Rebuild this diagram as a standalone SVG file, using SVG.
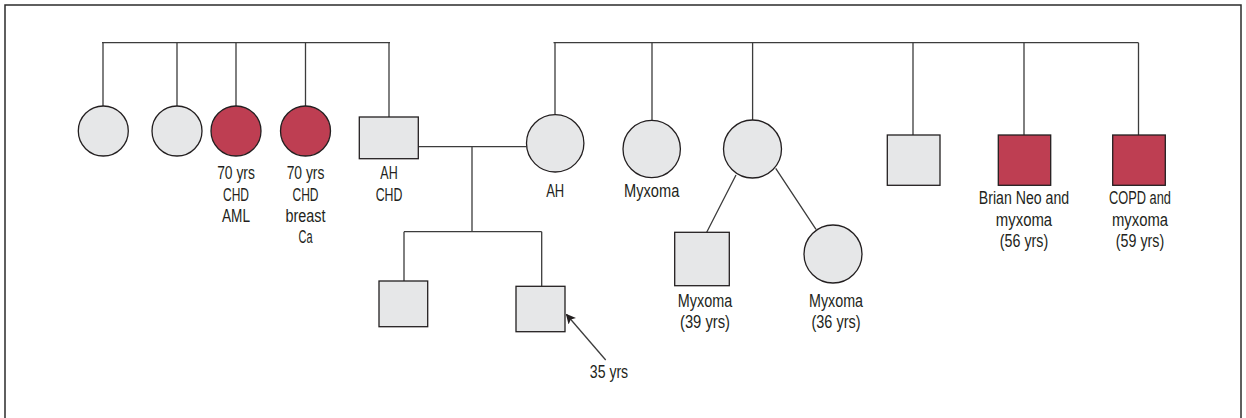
<svg xmlns="http://www.w3.org/2000/svg" width="1246" height="418" viewBox="0 0 1246 418">
  <style>
    .line { stroke: #3c3c3c; stroke-width: 1.3; fill: none; }
    .unaff { fill: #e6e7e8; stroke: #231f20; stroke-width: 1.3; }
    .aff { fill: #be3e52; stroke: #231f20; stroke-width: 1.3; }
    text { font-family: "Liberation Sans", Arial, sans-serif; font-size: 17.5px; fill: #231f20; text-anchor: middle; }
  </style>
  <defs>
    <marker id="arrow" viewBox="0 0 10 10" refX="9" refY="5" markerWidth="10" markerHeight="10" markerUnits="userSpaceOnUse" orient="auto">
      <path d="M0,0 L10,5 L0,10 L2.5,5 z" fill="#231f20"/>
    </marker>
  </defs>
  <rect x="0" y="0" width="1246" height="418" fill="#ffffff"/>
  <path d="M5,430 V5 H1241 V430" fill="none" stroke="#2b2b2b" stroke-width="1.5"/>

  <g id="connectors">
    <path class="line" d="M102,42.7 H390"/>
    <path class="line" d="M103,42.7 V106 M177,42.7 V106 M236,42.7 V106 M305.5,42.7 V106 M389,42.7 V117"/>
    <path class="line" d="M553.5,42.7 H1138.5"/>
    <path class="line" d="M555,42.7 V114 M652,42.7 V120 M752.6,42.7 V120 M913,42.7 V135 M1024,42.7 V135 M1138.5,42.7 V135"/>
    <path class="line" d="M418.3,146.7 H526.5 M472,146.7 V231.7 M404,231.7 H541.7 M404,231.7 V281 M541.7,231.7 V286.3"/>
    <path class="line" d="M736,175 L706.7,232.3 M775.7,168.3 L816,229.3"/>
    <path class="line" d="M605.7,360 L566.5,314.5" marker-end="url(#arrow)"/>
  </g>

  <g id="sister1"><circle class="unaff" cx="103.3" cy="131" r="25"/></g>
  <g id="sister2"><circle class="unaff" cx="177" cy="131" r="25"/></g>
  <g id="sister3">
    <circle class="aff" cx="236" cy="131" r="25"/>
    <text x="236" y="179.3" textLength="37.7" lengthAdjust="spacingAndGlyphs">70 yrs</text>
    <text x="236" y="200.7" textLength="26" lengthAdjust="spacingAndGlyphs">CHD</text>
    <text x="236" y="221.7" textLength="28" lengthAdjust="spacingAndGlyphs">AML</text>
  </g>
  <g id="sister4">
    <circle class="aff" cx="305.5" cy="131" r="25"/>
    <text x="305.5" y="179.3" textLength="37.7" lengthAdjust="spacingAndGlyphs">70 yrs</text>
    <text x="305.5" y="200.7" textLength="26" lengthAdjust="spacingAndGlyphs">CHD</text>
    <text x="305.5" y="221.7" textLength="40" lengthAdjust="spacingAndGlyphs">breast</text>
    <text x="305.5" y="242.7" textLength="14" lengthAdjust="spacingAndGlyphs">Ca</text>
  </g>
  <g id="father">
    <rect class="unaff" x="359.3" y="117" width="59" height="41.7"/>
    <text x="389" y="179.3" textLength="17.3" lengthAdjust="spacingAndGlyphs">AH</text>
    <text x="389" y="200.7" textLength="26.7" lengthAdjust="spacingAndGlyphs">CHD</text>
  </g>
  <g id="mother">
    <circle class="unaff" cx="555.2" cy="143.3" r="28.7"/>
    <text x="555.2" y="196.7" textLength="18" lengthAdjust="spacingAndGlyphs">AH</text>
  </g>
  <g id="aunt1">
    <circle class="unaff" cx="651.7" cy="149" r="28.7"/>
    <text x="651.7" y="196.7" textLength="55.3" lengthAdjust="spacingAndGlyphs">Myxoma</text>
  </g>
  <g id="aunt2"><circle class="unaff" cx="752.5" cy="149" r="29"/></g>
  <g id="uncle1"><rect class="unaff" x="887.3" y="135" width="52.7" height="50.3"/></g>
  <g id="uncle2">
    <rect class="aff" x="998.3" y="135" width="52.4" height="50.3"/>
    <text x="1024" y="204" textLength="90.3" lengthAdjust="spacingAndGlyphs">Brian Neo and</text>
    <text x="1024" y="225.7" textLength="56.3" lengthAdjust="spacingAndGlyphs">myxoma</text>
    <text x="1024" y="246.7" textLength="48.3" lengthAdjust="spacingAndGlyphs">(56 yrs)</text>
  </g>
  <g id="uncle3">
    <rect class="aff" x="1112.7" y="135" width="52.6" height="50.3"/>
    <text x="1140" y="204" textLength="62" lengthAdjust="spacingAndGlyphs">COPD and</text>
    <text x="1140" y="225.7" textLength="56" lengthAdjust="spacingAndGlyphs">myxoma</text>
    <text x="1140" y="246.7" textLength="48.3" lengthAdjust="spacingAndGlyphs">(59 yrs)</text>
  </g>
  <g id="brother"><rect class="unaff" x="379" y="281" width="48.7" height="45.7"/></g>
  <g id="proband">
    <rect class="unaff" x="516" y="286.3" width="49" height="45.4"/>
    <text x="609" y="378.3" textLength="38.3" lengthAdjust="spacingAndGlyphs">35 yrs</text>
  </g>
  <g id="cousin1">
    <rect class="unaff" x="674.7" y="232.3" width="54.6" height="53.4"/>
    <text x="705" y="306.7" textLength="54.3" lengthAdjust="spacingAndGlyphs">Myxoma</text>
    <text x="705" y="328.3" textLength="50" lengthAdjust="spacingAndGlyphs">(39 yrs)</text>
  </g>
  <g id="cousin2">
    <circle class="unaff" cx="833" cy="254" r="29"/>
    <text x="836" y="306.7" textLength="54" lengthAdjust="spacingAndGlyphs">Myxoma</text>
    <text x="836" y="328.3" textLength="49" lengthAdjust="spacingAndGlyphs">(36 yrs)</text>
  </g>
</svg>
